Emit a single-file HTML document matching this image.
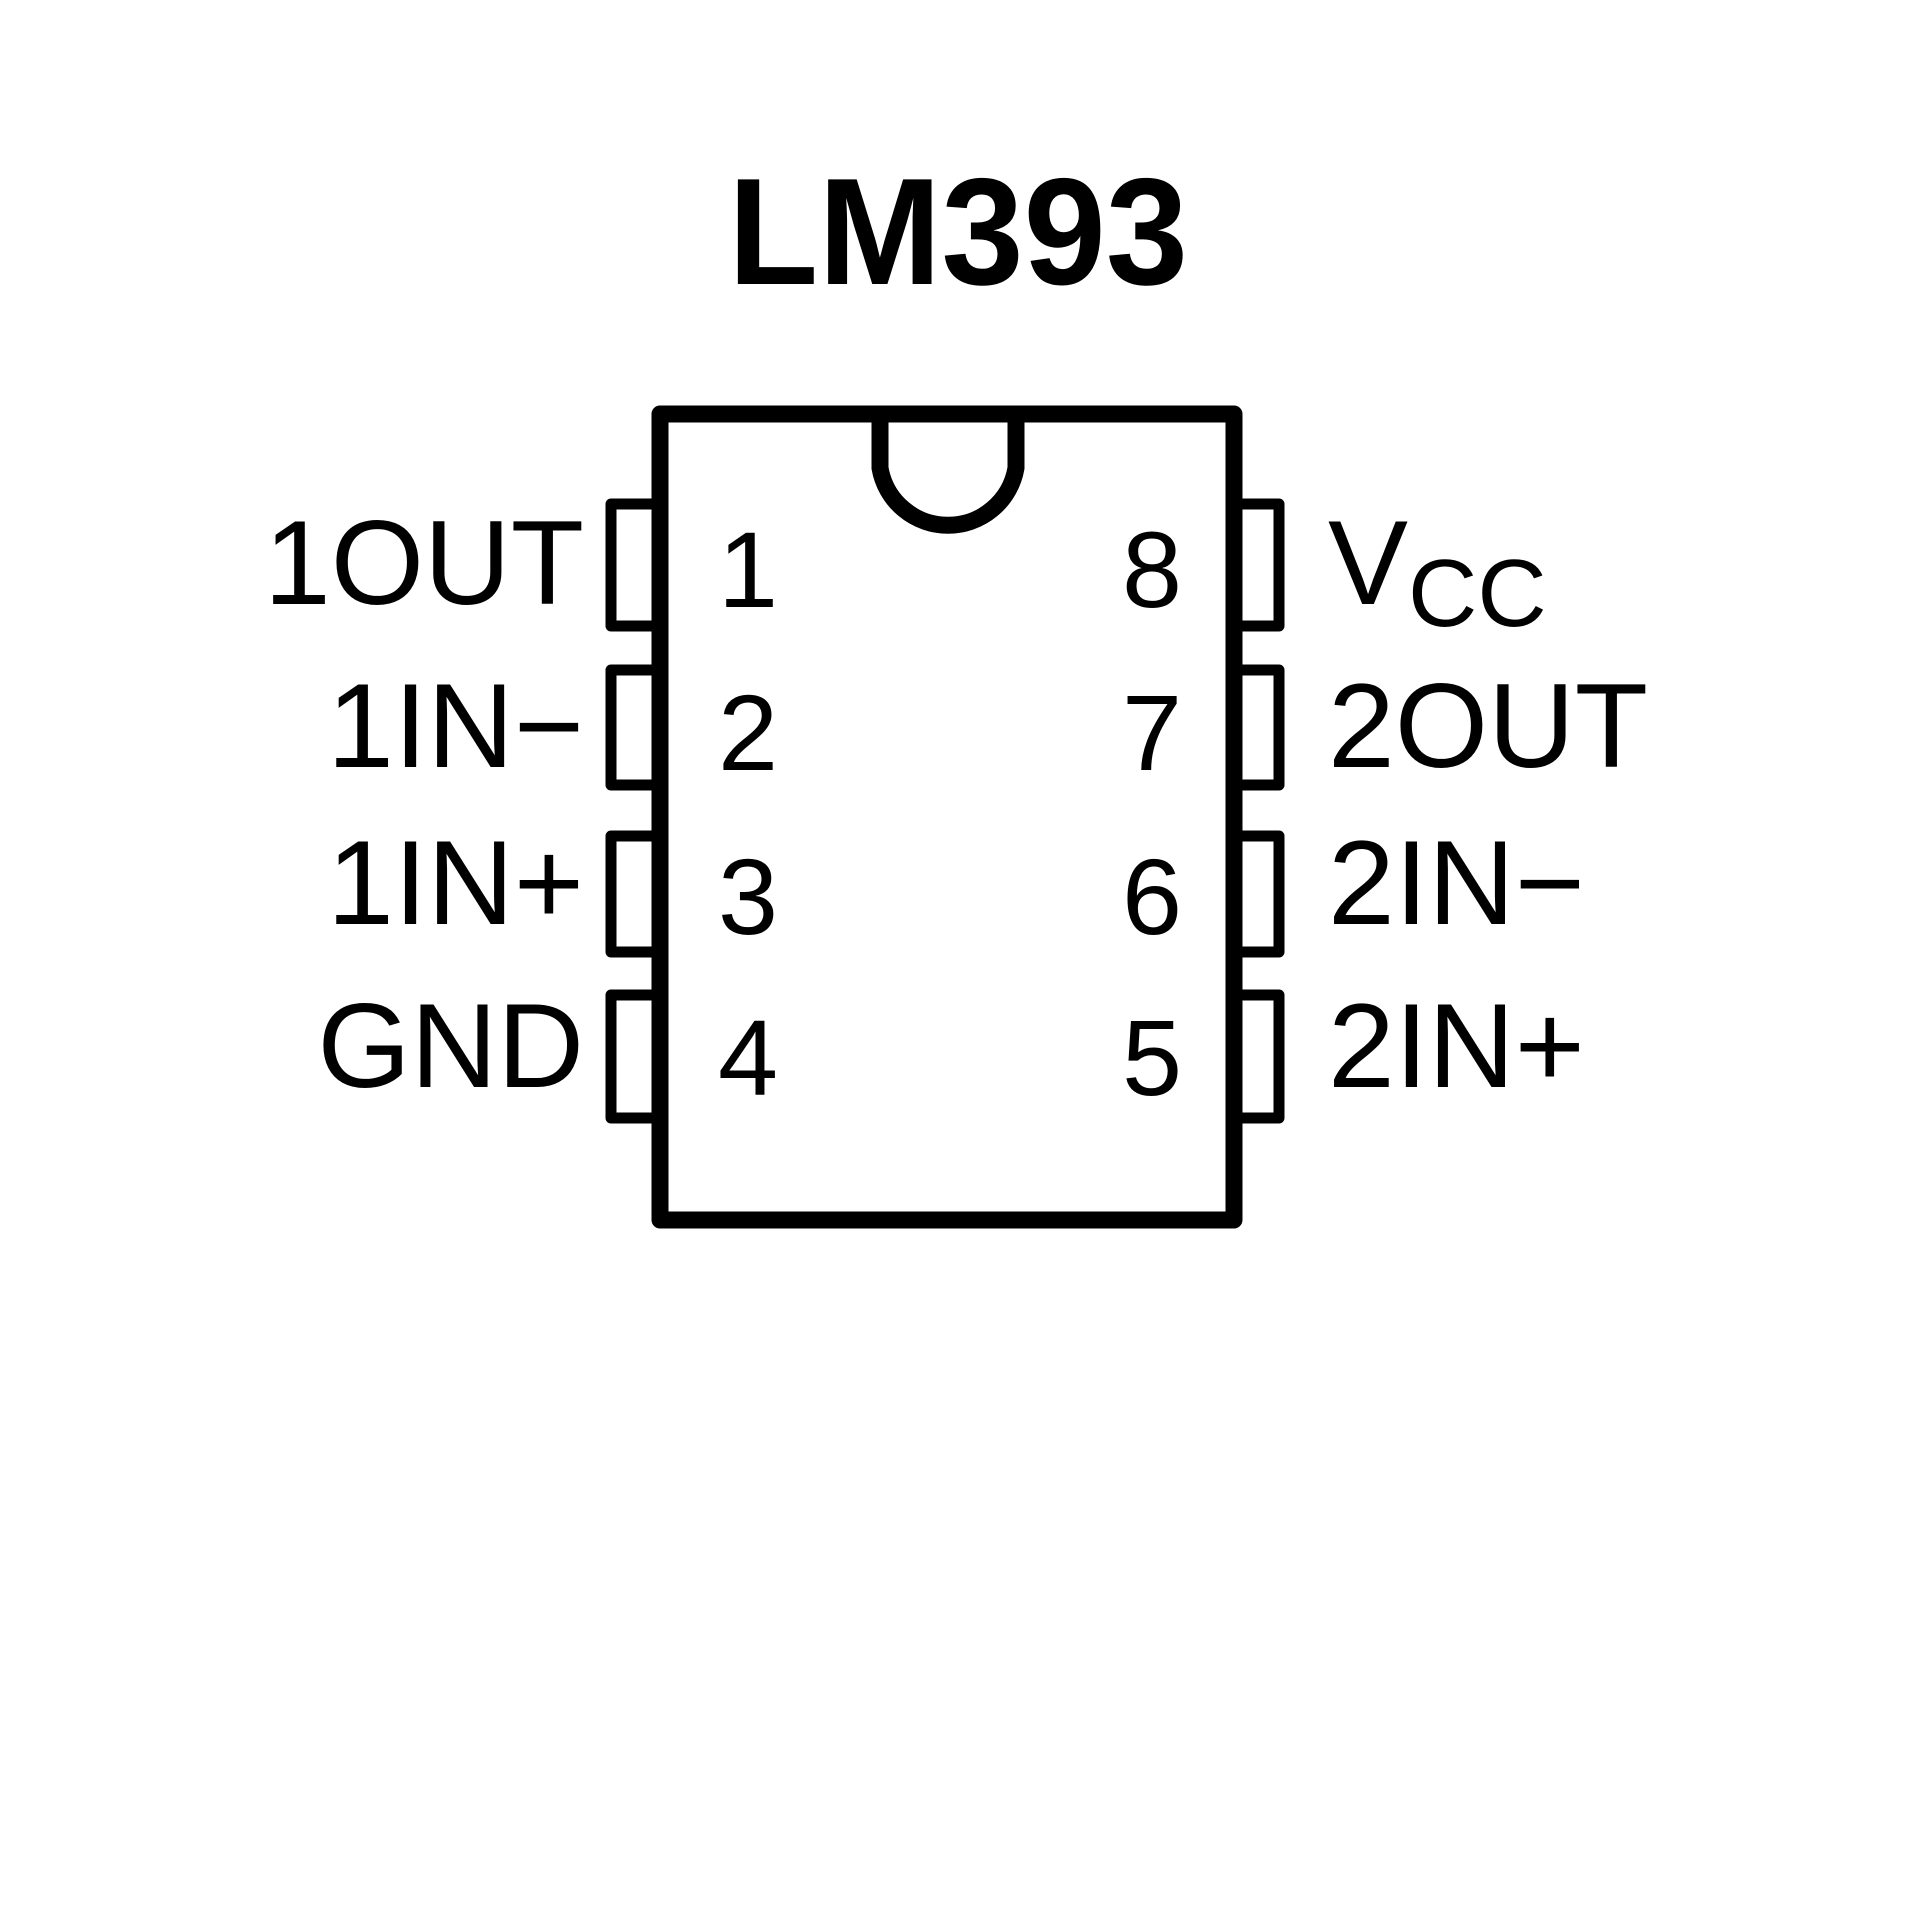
<!DOCTYPE html>
<html><head><style>html,body{margin:0;padding:0;background:#fff}</style></head>
<body>
<svg width="1920" height="1920" viewBox="0 0 1920 1920" xmlns="http://www.w3.org/2000/svg">
<rect width="1920" height="1920" fill="#fff"/>
<text x="958" y="284" text-anchor="middle" font-family="Liberation Sans, sans-serif" font-weight="bold" font-size="152" textLength="460" lengthAdjust="spacingAndGlyphs">LM393</text>
<g fill="none" stroke="#000" stroke-width="17" stroke-linejoin="round">
<rect x="660" y="414" width="574" height="806"/>
<path d="M880 414 V468 A69 69 0 0 0 1016 468 V414"/>
<g stroke-width="11">
<rect x="611" y="504" width="49" height="122"/>
<rect x="611" y="670" width="49" height="115"/>
<rect x="611" y="836" width="49" height="116"/>
<rect x="611" y="995" width="49" height="123"/>
<rect x="1234" y="504" width="45" height="122"/>
<rect x="1234" y="670" width="45" height="115"/>
<rect x="1234" y="836" width="45" height="116"/>
<rect x="1234" y="995" width="45" height="123"/>
</g>
</g>
<g font-family="Liberation Sans, sans-serif" font-size="108" text-anchor="middle">
<text x="748" y="607">1</text>
<text x="748" y="770">2</text>
<text x="748" y="934">3</text>
<text x="748" y="1095">4</text>
<text x="1152" y="607">8</text>
<text x="1152" y="770">7</text>
<text x="1152" y="934">6</text>
<text x="1152" y="1095">5</text>
</g>
<g font-family="Liberation Sans, sans-serif" font-size="120" text-anchor="end">
<text x="584" y="604">1OUT</text>
<text x="584" y="767">1IN−</text>
<text x="584" y="924">1IN+</text>
<text x="584" y="1087">GND</text>
</g>
<g font-family="Liberation Sans, sans-serif" font-size="120">
<text x="1328" y="604">V<tspan font-size="96" dy="22">CC</tspan></text>
<text x="1328" y="767">2OUT</text>
<text x="1328" y="924">2IN−</text>
<text x="1328" y="1087">2IN+</text>
</g>
</svg>
</body></html>
